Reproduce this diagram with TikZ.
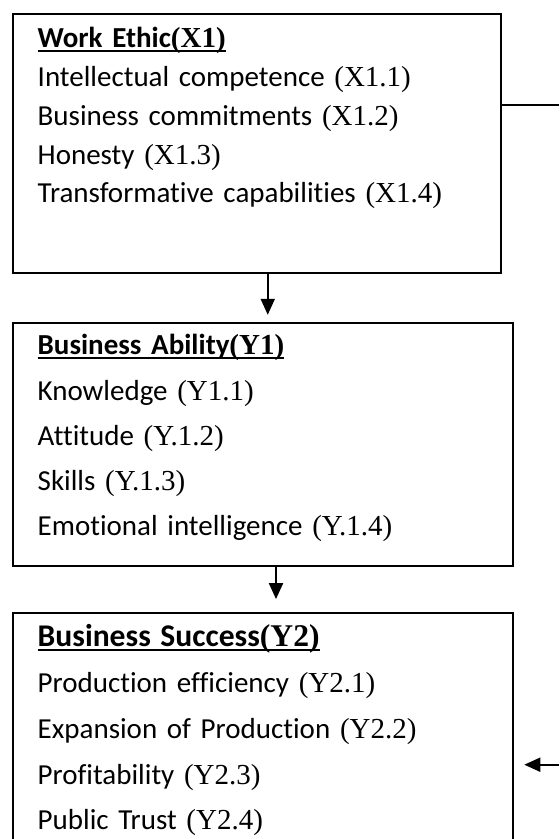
\documentclass[tikz,border=0pt]{standalone}
\usepackage{fontspec}
\setmainfont{Carlito}[Ligatures=NoCommon]
\newfontfamily\codefont{Liberation Serif}
\usetikzlibrary{positioning,arrows.meta}

\newcommand{\code}[1]{{\codefont #1}}
\newcommand{\uln}[1]{\setbox0=\hbox{#1}\rlap{\rule[-2.2pt]{\wd0}{1pt}}\box0}

\begin{document}
\begin{tikzpicture}[
  box/.style = {draw, line width=1pt, anchor=north west, align=left,
    inner xsep=12.5pt, inner ysep=0pt},
  link/.style = {line width=1pt},
  arrow/.style = {line width=1pt, -{Triangle[length=8pt,width=7pt]}}]
  \useasboundingbox (0,0) rectangle (279.5pt,-419.5pt);
  \coordinate (rim) at (279.5pt,0);

  \node (ethic) [box, text width=219.15pt, text height=16.7pt, text depth=112.5pt,
    font=\fontsize{14.5}{19.4}\selectfont] at (5.85pt,-6.65pt)
    {\uln{\textbf{Work Ethic\code{(X1)}}}\\
     Intellectual competence \code{(X1.1)}\\
     Business commitments \code{(X1.2)}\\
     Honesty \code{(X1.3)}\\
     Transformative capabilities \code{(X1.4)}};

  \node (ability) [box, below=24.15pt of ethic.south west, anchor=north west,
    text width=225.3pt, text height=15.85pt, text depth=105.8pt,
    font=\fontsize{14.5}{22.65}\selectfont]
    {\uln{\textbf{Business Ability\code{(Y1)}}}\\
     Knowledge \code{(Y1.1)}\\
     Attitude \code{(Y.1.2)}\\
     Skills \code{(Y.1.3)}\\
     Emotional intelligence \code{(Y.1.4)}};

  \node (success) [box, below=22.2pt of ability.south west, anchor=north west,
    text width=225pt, text height=17pt, text depth=106.65pt,
    font=\fontsize{14.5}{22.9}\selectfont]
    {\uln{\textbf{\fontsize{15.8}{22.9}\selectfont Business Success\code{(Y2)}}}\\
     Production efficiency \code{(Y2.1)}\\
     Expansion of Production \code{(Y2.2)}\\
     Profitability \code{(Y2.3)}\\
     Public Trust \code{(Y2.4)}};

  % links
  \draw[arrow, shorten >=3.6pt] ([xshift=5.45pt]ethic.south)
    -- ([xshift=5.45pt]ethic.south |- ability.north);
  \draw[arrow, shorten >=6.3pt] ([xshift=6.5pt]ability.south)
    -- ([xshift=6.5pt]ability.south |- success.north);

  \coordinate (ethicout) at ([yshift=-45.85pt]ethic.north east);
  \coordinate (successin) at ([yshift=-76.5pt]success.north east);
  \draw[link] (ethicout) -- (ethicout -| rim);
  \draw[arrow, shorten >=5.3pt] (successin -| rim) -- (successin);
\end{tikzpicture}
\end{document}
